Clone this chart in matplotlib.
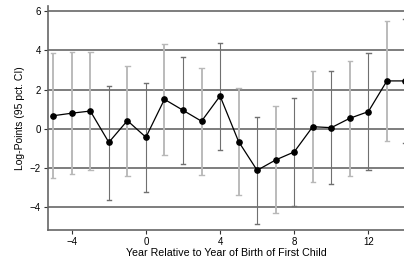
import matplotlib
matplotlib.use("Agg")
import matplotlib.pyplot as plt

years = [-5, -4, -3, -2, -1, 0, 1, 2, 3, 4, 5, 6, 7, 8, 9, 10, 11, 12, 13, 14]
estimates = [0.66, 0.79, 0.90, -0.70, 0.41, -0.44, 1.50, 0.94, 0.38, 1.67,
             -0.66, -2.13, -1.60, -1.19, 0.10, 0.05, 0.53, 0.87, 2.44, 2.44]
ci_upper = [3.85, 3.90, 3.92, 2.20, 3.22, 2.32, 4.31, 3.68, 3.12, 4.39,
            2.06, 0.60, 1.14, 1.58, 2.93, 2.93, 3.44, 3.85, 5.49, 5.60]
ci_lower = [-2.52, -2.30, -2.13, -3.63, -2.43, -3.23, -1.33, -1.82, -2.38, -1.07,
            -3.37, -4.89, -4.32, -3.95, -2.72, -2.84, -2.40, -2.11, -0.63, -0.75]
x_ticks = [-4, 0, 4, 8, 12]
y_ticks = [-4, -2, 0, 2, 4, 6]

plt.rcParams['font.family'] = ['Liberation Sans', 'DejaVu Sans']

fig = plt.figure(figsize=(4.04, 2.63), dpi=100)
ax = fig.add_axes([0.118, 0.1255, 0.8855, 0.8525])

for yv in y_ticks:
    ax.axhline(yv, color='#5a5a5a', lw=1.1, zorder=1)

dark_years = {-2, 0, 2, 4, 6, 8, 10, 12, 14}
for x, lo, hi in zip(years, ci_lower, ci_upper):
    if x in dark_years:
        col, lw = '#707070', 0.8
    else:
        col, lw = '#b8b8b8', 1.35
    ax.plot([x, x], [lo, hi], color=col, lw=lw, zorder=2, solid_capstyle='butt')
    for yv in (lo, hi):
        ax.plot([x - 0.12, x + 0.12], [yv, yv], color=col, lw=1.0, zorder=2)

ax.plot(years, estimates, color='black', lw=0.9, marker='o', markersize=3.8, zorder=3)

ax.set_xlim(-5.3, 14.0)
ax.set_ylim(-5.18, 6.28)
ax.set_xticks(x_ticks)
ax.set_yticks(y_ticks)
ax.tick_params(axis='both', labelsize=7, color='#333333', length=3, width=0.8, pad=2)
for s in ('top', 'right'):
    ax.spines[s].set_visible(False)
for s in ('left', 'bottom'):
    ax.spines[s].set_color('#666666')
    ax.spines[s].set_linewidth(1.2)

ax.set_xlabel('Year Relative to Year of Birth of First Child', fontsize=7.7, labelpad=1)
ax.set_ylabel('Log-Points (95 pct. CI)', fontsize=7.5, labelpad=3)

fig.savefig('out.png', dpi=100)
